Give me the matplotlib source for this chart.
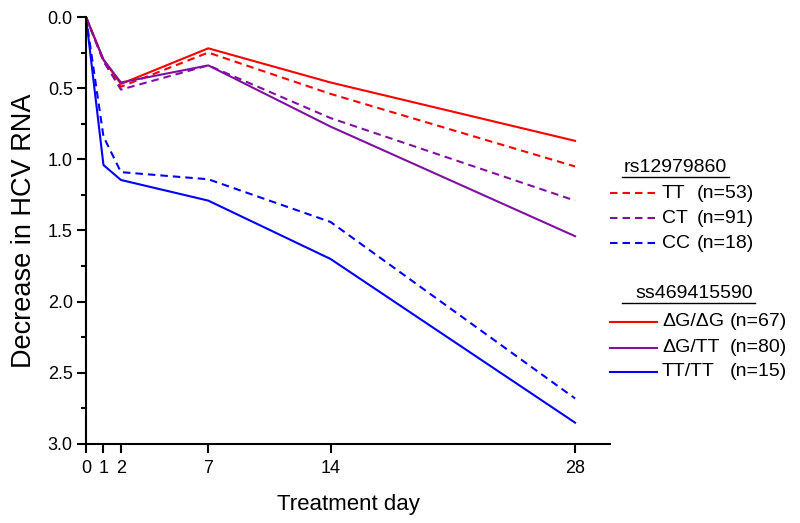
import numpy as np
import matplotlib
matplotlib.use('Agg')
from matplotlib import pyplot as plt
from matplotlib.lines import Line2D
from matplotlib.ticker import MultipleLocator

plt.rcParams['font.family'] = ['Liberation Sans', 'DejaVu Sans']

days = [0, 1, 2, 7, 14, 28]
# rs12979860 (dashed)
tt = [0, 0.31, 0.49, 0.25, 0.54, 1.05]
ct = [0, 0.31, 0.51, 0.34, 0.71, 1.29]
cc = [0, 0.84, 1.09, 1.14, 1.44, 2.68]
# ss469415590 (solid)
dg_dg = [0, 0.30, 0.47, 0.22, 0.46, 0.87]
dg_tt = [0, 0.30, 0.46, 0.34, 0.77, 1.54]
tt_tt = [0, 1.04, 1.145, 1.29, 1.70, 2.85]

rs_names = ['TT', 'CT', 'CC']
rs_n = ['(n=53)', '(n=91)', '(n=18)']
ss_names = ['\u0394G/\u0394G', '\u0394G/TT', 'TT/TT']
ss_n = ['(n=67)', '(n=80)', '(n=15)']

red = '#FF0000'
purple = '#8010A0'
blue = '#0000FF'
colors = [red, purple, blue]
dash = (3.6, 2.4)

W, H = 800, 523
fig = plt.figure(figsize=(8, 5.23), dpi=100)
ax = fig.add_axes([86 / W, 1 - 444 / H, (610 - 86) / W, (444 - 17) / H])

for y, c in zip([tt, ct, cc], colors):
    ax.plot(days, y, color=c, lw=1.5, linestyle=(0, dash))
for y, c in zip([dg_dg, dg_tt, tt_tt], colors):
    ax.plot(days, y, color=c, lw=1.5)

ax.set_xlim(0, 30)
ax.set_ylim(3.0, 0.0)
ax.set_xticks(days)
ax.set_yticks(np.arange(0, 3.01, 0.5))
ax.set_yticklabels(['%.1f' % v for v in np.arange(0, 3.01, 0.5)])
ax.yaxis.set_minor_locator(MultipleLocator(0.25))
ax.spines['top'].set_visible(False)
ax.spines['right'].set_visible(False)
for s in ['left', 'bottom']:
    ax.spines[s].set_linewidth(1.5)
ax.tick_params(which='major', direction='out', length=6.5, width=1.5, labelsize=13, pad=3)
ax.tick_params(axis='x', which='major', pad=5)
ax.tick_params(which='minor', direction='out', length=3.5, width=1.5)
ax.set_xlabel('Treatment day', fontsize=16, labelpad=12)
ax.set_ylabel('Decrease in HCV RNA', fontsize=19.5, labelpad=8)


def fx(x):
    return x / W


def fy(y):
    return 1 - y / H


# legend, drawn by hand in pixel positions
fs = 14
fig.text(fx(675), fy(168), 'rs12979860', fontsize=fs, ha='center', va='center')
fig.add_artist(Line2D([fx(622), fx(729)], [fy(177), fy(177)], color='black', lw=1))
for i, (nm, n, c) in enumerate(zip(rs_names, rs_n, colors)):
    yy = [193, 218, 243][i]
    fig.add_artist(Line2D([fx(610), fx(657)], [fy(yy), fy(yy)], color=c, lw=1.5, linestyle=(0, dash)))
    fig.text(fx(662), fy(yy), nm, fontsize=fs, va='center')
    fig.text(fx(697), fy(yy), n, fontsize=fs, va='center')

fig.text(fx(694), fy(294), 'ss469415590', fontsize=fs, ha='center', va='center')
fig.add_artist(Line2D([fx(622), fx(755)], [fy(303), fy(303)], color='black', lw=1))
for i, (nm, n, c) in enumerate(zip(ss_names, ss_n, colors)):
    yy = [322, 348, 372][i]
    fig.add_artist(Line2D([fx(610), fx(657)], [fy(yy), fy(yy)], color=c, lw=1.5))
    fig.text(fx(662), fy(yy), nm, fontsize=fs, va='center')
    fig.text(fx(730), fy(yy), n, fontsize=fs, va='center')

plt.savefig('out.png', dpi=100)
